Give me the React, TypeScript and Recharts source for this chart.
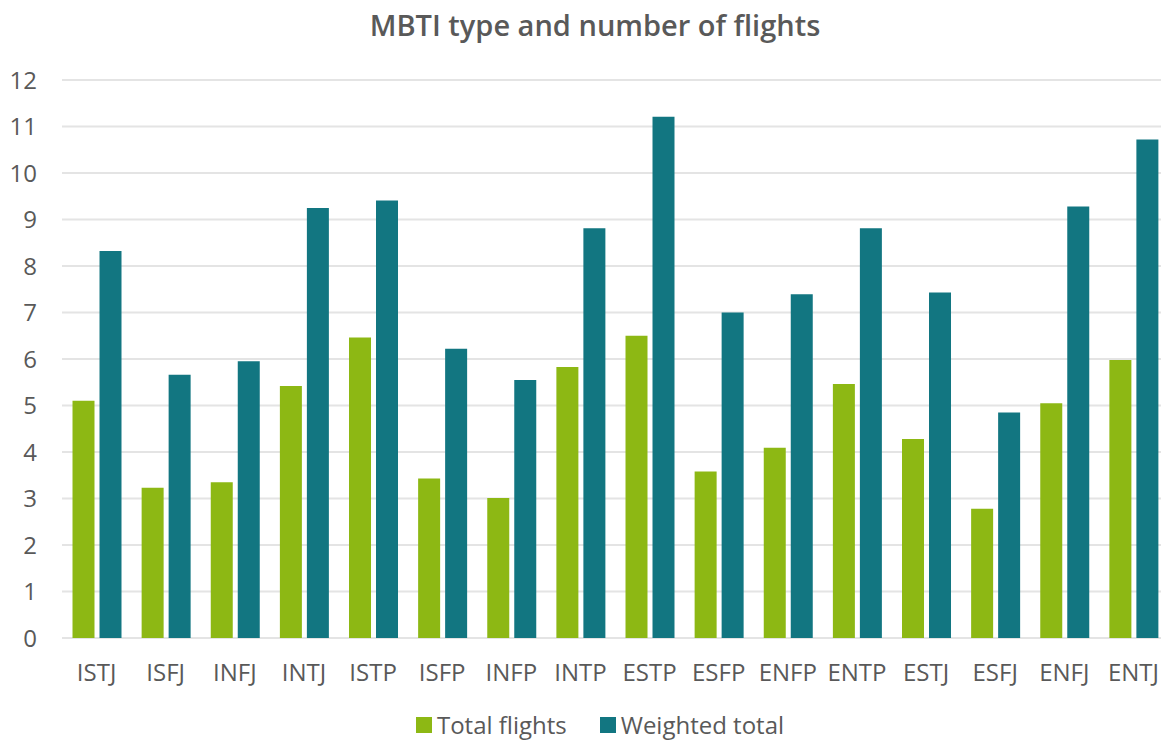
import { BarChart, Bar, XAxis, YAxis, CartesianGrid, Legend } from 'recharts';

const types = ['ISTJ', 'ISFJ', 'INFJ', 'INTJ', 'ISTP', 'ISFP', 'INFP', 'INTP', 'ESTP', 'ESFP', 'ENFP', 'ENTP', 'ESTJ', 'ESFJ', 'ENFJ', 'ENTJ'];
const totalFlights = [5.1, 3.23, 3.35, 5.42, 6.46, 3.43, 3.01, 5.83, 6.5, 3.58, 4.09, 5.46, 4.28, 2.78, 5.05, 5.98];
const weightedTotal = [8.32, 5.66, 5.95, 9.25, 9.41, 6.22, 5.55, 8.81, 11.21, 7.0, 7.39, 8.81, 7.43, 4.85, 9.28, 10.72];
const yTicks = [0, 1, 2, 3, 4, 5, 6, 7, 8, 9, 10, 11, 12];

const GREEN = '#8db814';
const TEAL = '#127681';
const TEXT = '#595959';
const FONT = '"Open Sans", sans-serif';

const data = types.map((type, i) => ({
  type,
  total: totalFlights[i],
  weighted: weightedTotal[i],
}));

// simple legend: coloured square + label, centred under the chart
function ChartLegend() {
  const items = [
    { label: 'Total flights', color: GREEN },
    { label: 'Weighted total', color: TEAL },
  ];
  return (
    <div style={{ display: 'flex', justifyContent: 'center', gap: 33, fontFamily: FONT, fontSize: 24, lineHeight: '24px', color: TEXT, paddingLeft: 6 }}>
      {items.map(item => (
        <div key={item.label} style={{ display: 'flex', alignItems: 'center' }}>
          <span style={{ display: 'inline-block', width: 16, height: 16, background: item.color, marginRight: 5 }} />
          <span>{item.label}</span>
        </div>
      ))}
    </div>
  );
}

export default function App() {
  return (
    <div style={{ position: 'absolute', left: 0, top: 0, width: 1161, height: 742, overflow: 'hidden', background: '#fff' }}>
      <BarChart
        width={1194}
        height={742}
        data={data}
        margin={{ top: 80, right: 26, left: 0, bottom: 50 }}
        barCategoryGap="15.2%"
        barGap={5}
      >
        <text x={595} y={36} textAnchor="middle" fill={TEXT} fontFamily={FONT} fontSize={29} fontWeight={600}>
          MBTI type and number of flights
        </text>
        <CartesianGrid vertical={false} stroke="#e4e4e4" strokeWidth={2} />
        <XAxis
          dataKey="type"
          interval={0}
          axisLine={false}
          tickLine={false}
          tickMargin={20}
          height={30}
          tick={{ fill: TEXT, fontSize: 24, fontFamily: FONT }}
        />
        <YAxis
          domain={[0, 12]}
          ticks={yTicks}
          interval={0}
          width={62}
          axisLine={false}
          tickLine={false}
          tickMargin={19}
          tick={{ fill: TEXT, fontSize: 24, fontFamily: FONT }}
        />
        <Legend
          verticalAlign="bottom"
          content={() => <ChartLegend />}
          wrapperStyle={{ top: 713, bottom: 'auto', left: 0, width: 1194 }}
        />
        <Bar dataKey="total" name="Total flights" fill={GREEN} isAnimationActive={false} />
        <Bar dataKey="weighted" name="Weighted total" fill={TEAL} isAnimationActive={false} />
      </BarChart>
    </div>
  );
}
